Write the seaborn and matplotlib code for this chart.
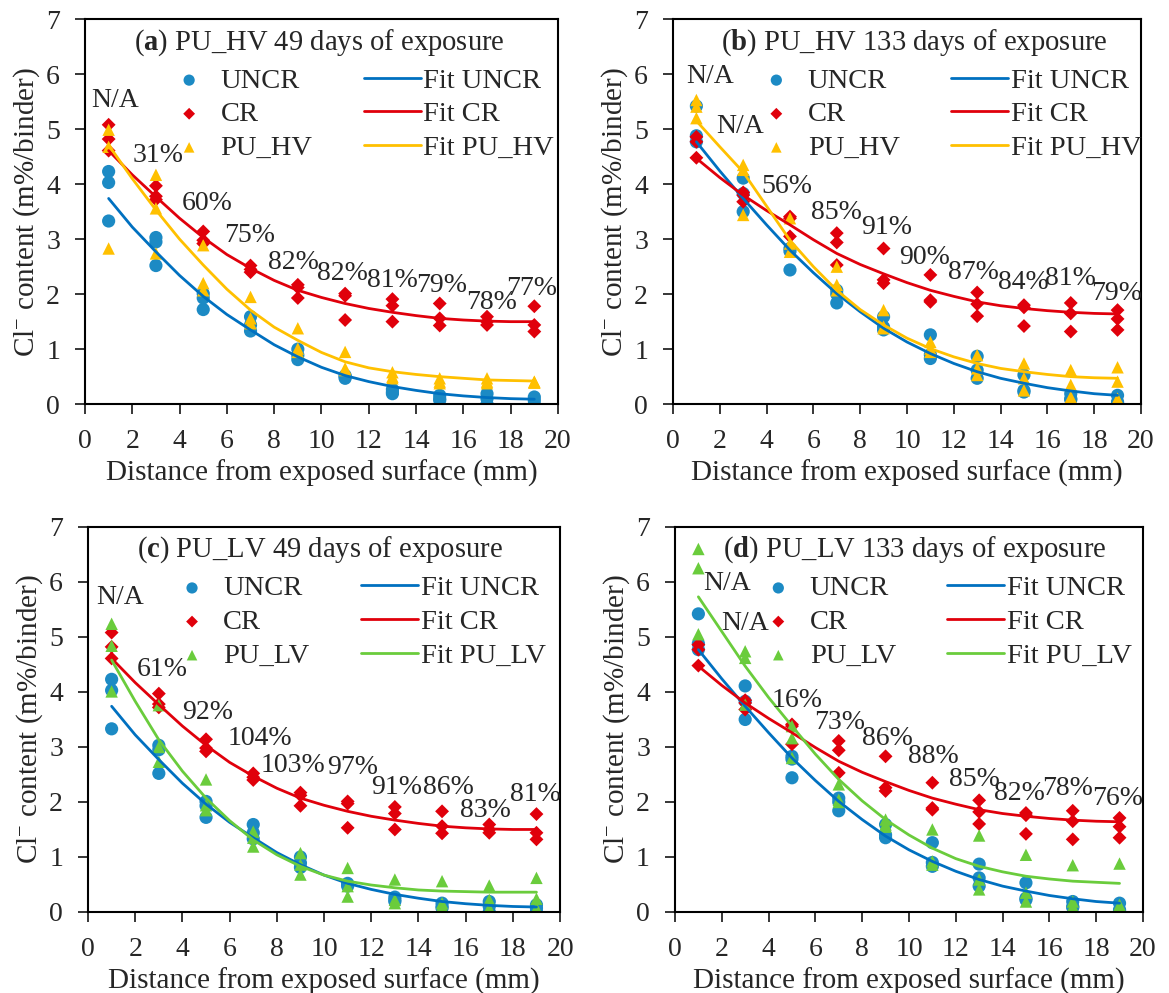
import numpy as np
import pandas as pd
import seaborn as sns
import matplotlib.pyplot as plt

# depths of the sampled slices (mm) and of the fitted curves
depth = [1, 3, 5, 7, 9, 11, 13, 15, 17, 19]
fit_depth = list(range(1, 20))

# measured chloride content, three replicates per depth
uncr_49 = [[4.23, 4.03, 3.33], [3.03, 2.95, 2.52], [2.01, 1.93, 1.72], [1.59, 1.44, 1.33],
           [1.00, 0.89, 0.81], [0.52, 0.50, 0.47], [0.27, 0.22, 0.19], [0.16, 0.10, 0.07],
           [0.19, 0.10, 0.00], [0.13, 0.07, 0.00]]
cr_49 = [[5.08, 4.82, 4.61], [3.97, 3.78, 3.72], [3.14, 2.98, 2.92], [2.52, 2.45, 2.40],
         [2.17, 2.12, 1.93], [2.01, 1.97, 1.53], [1.91, 1.79, 1.50], [1.83, 1.56, 1.43],
         [1.59, 1.50, 1.44], [1.78, 1.44, 1.32]]
puhv_49 = [[4.99, 4.68, 2.83], [4.17, 3.56, 2.74], [2.89, 2.20, 2.07], [1.95, 1.56, 1.47],
           [1.38, 1.01, 0.95], [0.95, 0.65, 0.62], [0.58, 0.50, 0.47], [0.47, 0.41, 0.38],
           [0.47, 0.41, 0.38], [0.41, 0.40, 0.39]]
pulv_49 = [[5.24, 4.84, 4.01], [3.76, 3.00, 2.73], [2.41, 1.94, 1.85], [1.46, 1.35, 1.19],
           [1.07, 0.86, 0.68], [0.80, 0.47, 0.28], [0.59, 0.22, 0.16], [0.56, 0.16, 0.10],
           [0.48, 0.22, 0.07], [0.62, 0.24, 0.07]]
uncr_133 = [[5.42, 4.88, 4.77], [4.11, 3.83, 3.50], [2.83, 2.78, 2.44], [2.07, 2.00, 1.84],
            [1.59, 1.40, 1.35], [1.26, 0.90, 0.83], [0.87, 0.62, 0.47], [0.53, 0.25, 0.22],
            [0.19, 0.10, 0.08], [0.16, 0.04, 0.02]]
cr_133 = [[4.86, 4.77, 4.48], [3.85, 3.80, 3.68], [3.41, 3.38, 3.05], [3.11, 2.94, 2.53],
          [2.83, 2.26, 2.20], [2.35, 1.89, 1.86], [2.03, 1.82, 1.60], [1.80, 1.76, 1.42],
          [1.84, 1.65, 1.32], [1.71, 1.55, 1.35]]
puhv_133 = [[5.53, 5.41, 5.20], [4.35, 4.26, 3.44], [3.38, 2.92, 2.77], [2.50, 2.17, 2.07],
            [1.71, 1.41, 1.38], [1.13, 1.01, 0.95], [0.89, 0.65, 0.53], [0.74, 0.47, 0.25],
            [0.62, 0.35, 0.13], [0.67, 0.41, 0.10]]
pulv_133 = [[6.60, 6.25, 5.05], [4.74, 4.62, 3.77], [3.38, 3.16, 2.80], [2.32, 2.04, 2.00],
            [1.68, 1.59, 1.55], [1.50, 0.92, 0.86], [1.39, 0.59, 0.41], [1.04, 0.35, 0.19],
            [0.85, 0.19, 0.10], [0.88, 0.13, 0.10]]

# fitted profiles read at every mm
fit_uncr_49 = [3.74, 3.22, 2.77, 2.34, 1.96, 1.63, 1.35, 1.08, 0.86, 0.67, 0.52, 0.41, 0.32,
               0.25, 0.19, 0.15, 0.12, 0.10, 0.09]
fit_cr_49 = [4.61, 4.17, 3.77, 3.38, 3.03, 2.72, 2.47, 2.25, 2.07, 1.94, 1.83, 1.74, 1.67,
             1.61, 1.56, 1.53, 1.51, 1.50, 1.50]
fit_puhv_49 = [4.71, 4.10, 3.53, 3.00, 2.53, 2.09, 1.71, 1.40, 1.16, 0.94, 0.77, 0.66, 0.59,
               0.54, 0.50, 0.47, 0.44, 0.43, 0.42]
fit_pulv_49 = [4.58, 3.83, 3.13, 2.56, 2.07, 1.66, 1.31, 1.04, 0.83, 0.67, 0.56, 0.49, 0.44,
               0.40, 0.38, 0.37, 0.36, 0.36, 0.36]
fit_uncr_133 = [4.77, 4.24, 3.74, 3.26, 2.80, 2.39, 2.01, 1.68, 1.38, 1.13, 0.92, 0.74, 0.59,
                0.47, 0.38, 0.30, 0.24, 0.19, 0.16]
fit_cr_133 = [4.47, 4.12, 3.80, 3.52, 3.26, 2.99, 2.74, 2.54, 2.37, 2.21, 2.07, 1.96, 1.86,
              1.79, 1.74, 1.70, 1.67, 1.65, 1.64]
fit_puhv_133 = [5.15, 4.68, 4.22, 3.60, 2.98, 2.50, 2.07, 1.72, 1.44, 1.20, 1.01, 0.86, 0.74,
                0.65, 0.59, 0.54, 0.50, 0.48, 0.47]
fit_pulv_133 = [5.73, 5.10, 4.47, 3.90, 3.38, 2.87, 2.41, 2.02, 1.68, 1.40, 1.16, 0.97, 0.83,
                0.73, 0.65, 0.60, 0.56, 0.54, 0.52]

# percentage annotations and where they sit (data coords)
labels_a = ["N/A", "31%", "60%", "75%", "82%", "82%", "81%", "79%", "78%", "77%"]
pos_a = [(1.27, 5.53), (3.09, 4.53), (5.16, 3.65), (6.98, 3.07), (8.8, 2.58), (10.9, 2.38),
         (13.0, 2.25), (15.1, 2.16), (17.2, 1.85), (18.9, 2.1)]
labels_b = ["N/A", "N/A", "56%", "85%", "91%", "90%", "87%", "84%", "81%", "79%"]
pos_b = [(1.58, 5.95), (2.86, 5.04), (4.87, 3.95), (7.0, 3.49), (9.15, 3.22), (10.77, 2.67),
         (12.82, 2.4), (14.96, 2.22), (16.97, 2.29), (18.97, 2.02)]
labels_c = ["N/A", "61%", "92%", "104%", "103%", "97%", "91%", "86%", "83%", "81%"]
pos_c = [(1.36, 5.71), (3.14, 4.40), (5.08, 3.62), (7.29, 3.16), (8.69, 2.67), (11.19, 2.62),
         (13.09, 2.27), (15.25, 2.27), (16.82, 1.85), (18.94, 2.13)]
labels_d = ["N/A", "N/A", "16%", "73%", "86%", "88%", "85%", "82%", "78%", "76%"]
pos_d = [(2.24, 5.98), (2.99, 5.25), (5.21, 3.85), (7.05, 3.44), (9.06, 3.16), (11.03, 2.82),
         (12.82, 2.4), (14.74, 2.16), (16.8, 2.25), (18.93, 2.07)]

C_UNCR, C_UNCR_FIT = "#1C8AC4", "#0070C0"
C_CR = "#E0000B"
C_HV = "#FFC000"
C_LV = "#6ACC3C"

sns.set_style("ticks")
plt.rcParams['font.family'] = ['Liberation Serif', 'DejaVu Serif']
plt.rcParams['mathtext.fontset'] = 'custom'
plt.rcParams['mathtext.rm'] = 'Liberation Serif'
plt.rcParams['mathtext.bf'] = 'Liberation Serif:bold'
plt.rcParams['mathtext.it'] = 'Liberation Serif:italic'

FS = 20


def to_df(values):
    return pd.DataFrame({'x': np.repeat(depth, 3), 'y': np.ravel(values)})


def panel(ax, letter, title, uncr, cr, pu, pu_name, pu_col, fits, labels, pos):
    sns.scatterplot(data=to_df(uncr), x='x', y='y', ax=ax, marker='o', s=90,
                    color=C_UNCR, edgecolor='none', label='UNCR')
    sns.scatterplot(data=to_df(cr), x='x', y='y', ax=ax, marker='D', s=50,
                    color=C_CR, edgecolor='none', label='CR')
    sns.scatterplot(data=to_df(pu), x='x', y='y', ax=ax, marker='^', s=80,
                    color=pu_col, edgecolor='none', label=pu_name)
    for vals, col, name in zip(fits, [C_UNCR_FIT, C_CR, pu_col],
                               ['Fit UNCR', 'Fit CR', 'Fit ' + pu_name]):
        sns.lineplot(x=fit_depth, y=vals, ax=ax, color=col, lw=2.0,
                     errorbar=None, label=name)

    ax.set_xlim(0, 20)
    ax.set_ylim(0, 7)
    ax.set_xticks(range(0, 21, 2))
    ax.set_yticks(range(0, 8))
    ax.tick_params(direction='out', length=7, width=1.3, labelsize=FS, pad=11,
                   top=False, right=False)
    for sp in ax.spines.values():
        sp.set_visible(True)
        sp.set_linewidth(1.5)
        sp.set_color('black')
    ax.set_xlabel('Distance from exposed surface (mm)', fontsize=21, labelpad=4)
    ax.set_ylabel(r'Cl$^{-}$ content (m%/binder)', fontsize=21, labelpad=3)

    ax.text(0.103, 0.94, r'($\mathbf{' + letter + r'}$) ' + title, transform=ax.transAxes,
            ha='left', va='center', fontsize=20.6)
    for txt, (px, py) in zip(labels, pos):
        ax.text(px, py, txt, ha='center', va='center', fontsize=FS)

    handles, names = ax.get_legend_handles_labels()
    order = ['UNCR', 'CR', pu_name, 'Fit UNCR', 'Fit CR', 'Fit ' + pu_name]
    hmap = dict(zip(names, handles))
    ax.legend([hmap[n] for n in order], order, ncol=2, loc='upper left',
              bbox_to_anchor=(0.16, 0.874), frameon=False, fontsize=20.5,
              handlelength=2.0, handletextpad=0.1, columnspacing=1.8,
              labelspacing=0.27, borderpad=0, borderaxespad=0, markerscale=0.85)


fig = plt.figure(figsize=(11.69, 9.93), dpi=100)
ax_a = fig.add_axes([0.0727, 0.593, 0.4046, 0.3877])
ax_b = fig.add_axes([0.5757, 0.593, 0.4003, 0.3877])
ax_c = fig.add_axes([0.0753, 0.0816, 0.4038, 0.3877])
ax_d = fig.add_axes([0.5774, 0.0816, 0.4003, 0.3877])

panel(ax_a, 'a', 'PU_HV 49 days of exposure', uncr_49, cr_49, puhv_49, 'PU_HV', C_HV,
      [fit_uncr_49, fit_cr_49, fit_puhv_49], labels_a, pos_a)
panel(ax_b, 'b', 'PU_HV 133 days of exposure', uncr_133, cr_133, puhv_133, 'PU_HV', C_HV,
      [fit_uncr_133, fit_cr_133, fit_puhv_133], labels_b, pos_b)
panel(ax_c, 'c', 'PU_LV 49 days of exposure', uncr_49, cr_49, pulv_49, 'PU_LV', C_LV,
      [fit_uncr_49, fit_cr_49, fit_pulv_49], labels_c, pos_c)
panel(ax_d, 'd', 'PU_LV 133 days of exposure', uncr_133, cr_133, pulv_133, 'PU_LV', C_LV,
      [fit_uncr_133, fit_cr_133, fit_pulv_133], labels_d, pos_d)

fig.savefig('out.png', dpi=100)
